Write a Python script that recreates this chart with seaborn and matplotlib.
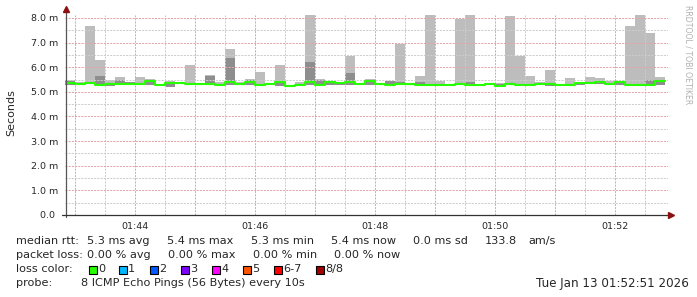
import pandas as pd
import numpy as np
import matplotlib
matplotlib.use('Agg')
import matplotlib.pyplot as plt
import matplotlib.dates as mdates
from matplotlib.ticker import MultipleLocator, FuncFormatter
from matplotlib.patches import Rectangle
from matplotlib.lines import Line2D
import seaborn as sns

# 60 steps of 10 s, values in ms
start_time = '2026-01-13 01:42:50'
median_rtt = [5.37, 5.33, 5.36, 5.29, 5.32, 5.33, 5.33, 5.32, 5.43, 5.29,
              5.35, 5.36, 5.33, 5.32, 5.33, 5.28, 5.41, 5.33, 5.39, 5.29,
              5.32, 5.40, 5.24, 5.29, 5.40, 5.27, 5.40, 5.37, 5.40, 5.31,
              5.43, 5.32, 5.29, 5.32, 5.32, 5.29, 5.29, 5.29, 5.28, 5.31,
              5.28, 5.29, 5.31, 5.25, 5.31, 5.29, 5.29, 5.32, 5.31, 5.29,
              5.29, 5.37, 5.37, 5.41, 5.32, 5.40, 5.29, 5.29, 5.29, 5.43]
smoke_max = [5.47, 5.38, 7.67, 6.29, 5.48, 5.60, 5.40, 5.60, 5.52, 5.33,
             5.44, 5.38, 6.09, 5.33, 5.68, 5.40, 6.74, 5.38, 5.52, 5.81,
             5.35, 6.09, 5.29, 5.40, 8.30, 5.52, 5.45, 5.42, 6.46, 5.35,
             5.52, 5.33, 5.44, 6.94, 5.33, 5.64, 8.30, 5.44, 5.31, 7.96,
             8.30, 5.33, 5.36, 5.35, 8.08, 6.46, 5.64, 5.40, 5.89, 5.31,
             5.56, 5.38, 5.60, 5.56, 5.44, 5.44, 7.67, 8.30, 7.39, 5.60]
smoke_mid = [5.45, 5.35, 5.38, 5.64, 5.34, 5.48, 5.38, 5.34, 5.48, 5.31,
             5.36, 5.38, 5.36, 5.33, 5.64, 5.30, 6.38, 5.36, 5.50, 5.31,
             5.33, 5.42, 5.26, 5.31, 6.21, 5.50, 5.43, 5.39, 5.77, 5.33,
             5.50, 5.33, 5.44, 5.40, 5.33, 5.40, 5.32, 5.31, 5.30, 5.33,
             5.40, 5.31, 5.33, 5.33, 5.31, 5.33, 5.31, 5.36, 5.33, 5.31,
             5.31, 5.38, 5.40, 5.45, 5.34, 5.44, 5.31, 5.31, 5.48, 5.48]
smoke_min = [5.28, 5.30, 5.30, 5.29, 5.25, 5.30, 5.31, 5.30, 5.28, 5.27,
             5.21, 5.31, 5.30, 5.28, 5.30, 5.27, 5.29, 5.29, 5.28, 5.27,
             5.29, 5.22, 5.22, 5.27, 5.29, 5.26, 5.29, 5.28, 5.29, 5.28,
             5.29, 5.29, 5.23, 5.27, 5.29, 5.26, 5.28, 5.27, 5.26, 5.27,
             5.23, 5.28, 5.27, 5.24, 5.27, 5.28, 5.23, 5.28, 5.23, 5.27,
             5.23, 5.27, 5.30, 5.30, 5.27, 5.29, 5.23, 5.26, 5.23, 5.26]

rtt_stats = ['5.3 ms avg', '5.4 ms max', '5.3 ms min', '5.4 ms now', '0.0 ms sd', '133.8', 'am/s']
loss_stats = ['0.00 % avg', '0.00 % max', '0.00 % min', '0.00 % now']
loss_labels = ['0', '1', '2', '3', '4', '5', '6-7', '8/8']
loss_colors = ['#26ff00', '#00b8ff', '#0059ff', '#7e00ff', '#ff00ff', '#ff5500', '#ff0000', '#a10000']
probe_text = '8 ICMP Echo Pings (56 Bytes) every 10s'
stamp_text = 'Tue Jan 13 01:52:51 2026'

times = pd.date_range(start_time, periods=len(median_rtt), freq='10s')
df = pd.DataFrame({'time': times, 'median': median_rtt, 'max': smoke_max,
                   'mid': smoke_mid, 'min': smoke_min})

sns.set_style('white')
plt.rcParams['font.family'] = ['DejaVu Sans']

W, H = 697, 297
def fx(x):
    return x / W
def fy(y):
    return 1 - y / H

fig = plt.figure(figsize=(W / 100, H / 100), dpi=100)
ax = fig.add_axes([fx(65), fy(215), (668 - 65) / W, (215 - 15) / H])

step = pd.Timedelta(seconds=10)
width = 10 / 86400
xnum = mdates.date2num(df['time'])
ax.bar(xnum, df['max'] - df['min'], bottom=df['min'], width=width, align='edge',
       color='#bdbdbd', linewidth=0, zorder=1)
ax.bar(xnum, df['mid'] - df['min'], bottom=df['min'], width=width, align='edge',
       color='#8e8e8e', linewidth=0, zorder=1.1)

# median as a step line
last = pd.DataFrame({'time': [times[-1] + step], 'median': [median_rtt[-1]]})
step_df = pd.concat([df[['time', 'median']], last], ignore_index=True)
sns.lineplot(data=step_df, x='time', y='median', drawstyle='steps-post',
             color='#26ff00', linewidth=1.5, ax=ax, zorder=3)

ax.set_xlim(pd.Timestamp('2026-01-13 01:42:50'), pd.Timestamp('2026-01-13 01:52:53'))
ax.set_ylim(0, 8.12)

ax.xaxis.set_major_locator(mdates.MinuteLocator())
ax.xaxis.set_minor_locator(mdates.SecondLocator(bysecond=[30]))
ax.xaxis.set_major_formatter(FuncFormatter(
    lambda v, p: mdates.num2date(v).strftime('%H:%M') if mdates.num2date(v).minute % 2 == 0 else ''))
ax.yaxis.set_major_locator(MultipleLocator(1))
ax.yaxis.set_minor_locator(MultipleLocator(0.5))
ax.yaxis.set_major_formatter(FuncFormatter(lambda v, p: '0.0 ' if v == 0 else f'{v:.1f} m'))

dots = (0, (2, 1.2))
ax.grid(which='minor', color='#cccccc', linestyle=dots, linewidth=0.72)
ax.grid(which='major', color='#e5a3a3', linestyle=dots, linewidth=0.72)
ax.set_axisbelow(False)

ax.tick_params(which='both', length=2, width=0.7, color='#555555', labelsize=6.8, pad=3)
ax.set_xlabel('')
ax.set_ylabel('')
for s in ax.spines.values():
    s.set_visible(False)

# axes lines with arrows
fig.add_artist(Line2D([fx(66), fx(66)], [fy(217), fy(11)], color='#555555', lw=0.9))
fig.add_artist(Line2D([fx(62), fx(670)], [fy(215), fy(215)], color='#333333', lw=0.9))
fig.add_artist(Line2D([fx(66)], [fy(9)], marker='^', color='#8b1010', markersize=4.5))
fig.add_artist(Line2D([fx(671)], [fy(215)], marker='>', color='#8b1010', markersize=4.5))

fig.text(fx(11), fy(113), 'Seconds', rotation=90, ha='center', va='center', fontsize=8)
fig.text(fx(688), fy(5), 'RRDTOOL / TOBI OETIKER', rotation=270, ha='center', va='top',
         fontsize=5.6, color='#b0b0b0')

fs = 8.1
fig.text(fx(16), fy(241), 'median rtt:', fontsize=fs, va='center')
for x, t in zip([87, 167, 251, 331, 413, 485, 528], rtt_stats):
    fig.text(fx(x), fy(241), t, fontsize=fs, va='center')
fig.text(fx(16), fy(255), 'packet loss:', fontsize=fs, va='center')
for x, t in zip([87, 168, 253, 334], loss_stats):
    fig.text(fx(x), fy(255), t, fontsize=fs, va='center')
fig.text(fx(16), fy(269), 'loss color:', fontsize=fs, va='center')
for x, lab, c in zip([89, 119, 150, 181, 212, 243, 274, 316], loss_labels, loss_colors):
    fig.add_artist(Rectangle((fx(x), fy(273.5)), 8 / W, 8 / H, transform=fig.transFigure,
                             facecolor=c, edgecolor='black', linewidth=0.8))
    fig.text(fx(x + 9), fy(269), lab, fontsize=fs, va='center')
fig.text(fx(16), fy(283), 'probe:', fontsize=fs, va='center')
fig.text(fx(81), fy(283), probe_text, fontsize=fs, va='center')
fig.text(fx(689), fy(283), stamp_text, fontsize=8.6, va='center', ha='right')

fig.savefig('out.png', dpi=100)
